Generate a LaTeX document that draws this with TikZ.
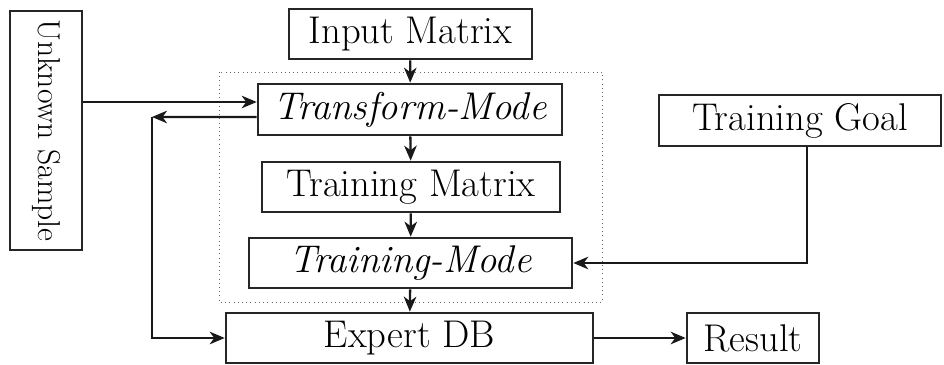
\documentclass[tikz,border=0pt]{standalone}
\usepackage{tikz}
\usetikzlibrary{arrows.meta}

\begin{document}
\begin{tikzpicture}[x=0.02cm,y=-0.02cm,font=\fontsize{22}{26}\selectfont,
        blk/.style={draw=black!85,line width=1.5pt,inner sep=0pt,minimum height=1cm},
        flow/.style={-{Stealth[length=0.3cm,width=0.25cm,inset=0.09cm]},line width=1.3pt,draw=black!90}]
        \useasboundingbox (0,0) rectangle (944,365);
        \begin{scope}
            % boxes
            \node[blk,minimum width=1.44cm,minimum height=4.78cm] (unk) at (46,130.5) {\fontsize{18}{22}\selectfont\rotatebox{-90}{Unknown Sample}};
            \node[blk,minimum width=4.86cm] (input) at (410.5,34) {Input Matrix};
            \node[blk,minimum width=6.08cm,minimum height=1.02cm] (trans) at (410,109.5) {\textit{Transform-Mode}};
            \node[blk,minimum width=5.96cm] (trmat) at (411,187) {Training Matrix};
            \node[blk,minimum width=6.46cm] (trmode) at (410.5,263) {\textit{Training-Mode}};
            \node[blk,minimum width=7.34cm] (expert) at (409.5,338) {Expert DB};
            \node[blk,minimum width=5.64cm,minimum height=1.02cm] (goal) at (800,120.5) {Training Goal};
            \node[blk,minimum width=2.64cm] (result) at (753,338) {Result};
            \draw [dotted,black!60] (219,72) rectangle (602,302);
            % arrows
            \coordinate (tin) at ([yshift=0.15cm]trans.west);
            \coordinate (tout) at ([yshift=-0.15cm]trans.west);
            \coordinate (loop) at (152,117);
            \draw [flow] (input) -- (trans);
            \draw [flow] (trans) -- (trmat);
            \draw [flow] (trmat) -- (trmode);
            \draw [flow] (trmode) -- (expert);
            \draw [flow] (unk.east |- tin) -- (tin);
            \draw [flow] (tout) -- (loop);
            \draw [flow] (loop) |- (expert.west);
            \draw [flow] ([xshift=0.14cm]goal.south) |- (trmode.east);
            \draw [flow] (expert) -- (result);
        \end{scope}
    \end{tikzpicture}
\end{document}
